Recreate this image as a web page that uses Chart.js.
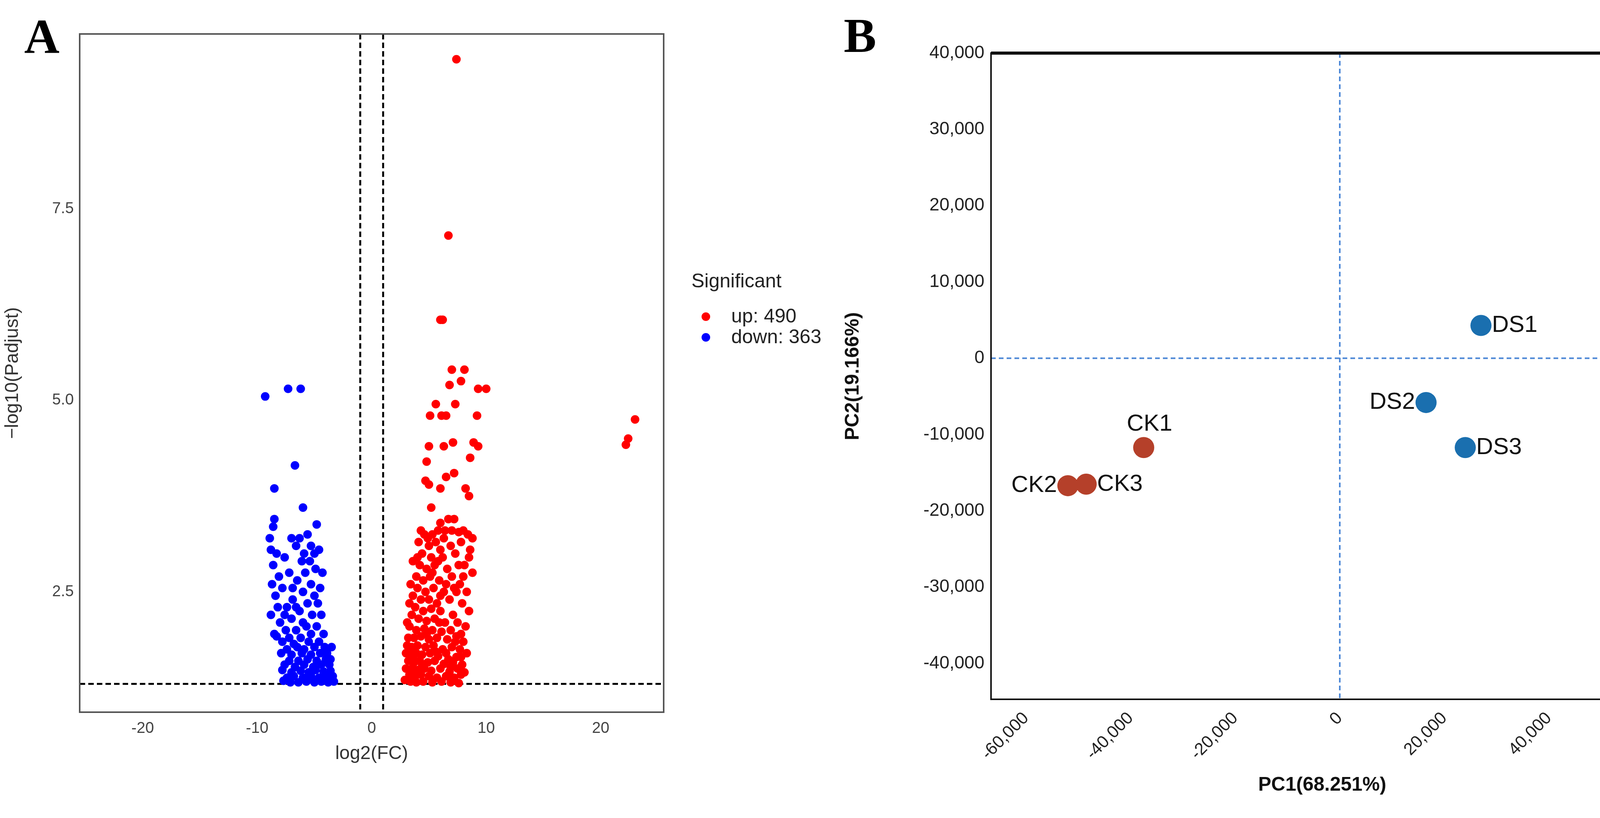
<!DOCTYPE html>
<html>
<head>
<meta charset="utf-8">
<script src="https://cdn.jsdelivr.net/npm/chart.js@4"></script>
<style>
  body { margin: 0; background: #fff; width: 4268px; height: 2095px; position: relative; overflow: hidden; font-family: "Liberation Sans", Arial, sans-serif; }
  canvas { position: absolute; }
  .lbl { position: absolute; font-family: "Liberation Serif", serif; font-weight: bold; font-size: 125px; }
  .leg { position: absolute; font-size: 50px; color: #222; }
  .dot { position: absolute; width: 22px; height: 22px; border-radius: 50%; }
</style>
</head>
<body>
<div class="lbl" style="left:62px;top:22px">A</div>
<div class="lbl" style="left:2160px;top:20px">B</div>
<div class="leg" style="left:1770px;top:690px">Significant</div>
<div class="dot" style="left:1796px;top:800px;background:#ff0000"></div>
<div class="leg" style="left:1872px;top:780px">up: 490</div>
<div class="dot" style="left:1796px;top:853px;background:#0000ff"></div>
<div class="leg" style="left:1872px;top:833px">down: 363</div>
<canvas id="volcano" style="left:0;top:0" width="1710" height="2095"></canvas>
<canvas id="pca" style="left:2150px;top:0" width="2118" height="2095"></canvas>
<script>
// Volcano plot points, [log2FC, -log10(Padjust)]
var upPoints = [
  [7.4,9.45],[6.7,7.15],[6.0,6.05],[6.2,6.05],[7.0,5.4],[8.1,5.4],[6.8,5.2],[7.8,5.25],
  [9.3,5.15],[10.0,5.15],[5.6,4.95],[7.3,4.95],[5.1,4.8],[6.1,4.8],[6.5,4.8],[9.2,4.8],
  [22.2,4.42],[22.4,4.5],[23.0,4.75],[5.0,4.4],[6.3,4.4],[7.1,4.45],[8.9,4.45],[9.3,4.4],
  [4.8,4.2],[7.2,4.05],[8.6,4.25],[6.5,4.0],[5.0,3.9],[4.7,3.95],[8.2,3.85],[6.0,3.85],
  [8.5,3.75],[5.2,3.6],[6.7,3.45],[6.0,3.4],[7.2,3.45],[5.8,3.3],[4.3,3.3],[4.6,3.25],
  [5.3,3.25],[6.4,3.3],[7.0,3.3],[7.6,3.28],[8.0,3.3],[8.4,3.25],[8.8,3.2],[4.1,3.15],
  [5.0,3.1],[5.6,3.15],[6.9,3.1],[7.8,3.15],[8.6,3.05],[4.4,3.0],[5.2,2.95],[6.2,2.95],
  [7.3,3.0],[4.2,2.85],[4.8,2.8],[5.5,2.85],[6.6,2.8],[8.1,2.85],[8.8,2.75],[3.9,2.7],
  [4.5,2.65],[5.1,2.7],[5.9,2.65],[7.0,2.7],[7.7,2.6],[4.0,2.55],[4.7,2.5],[5.4,2.55],
  [6.3,2.5],[7.4,2.5],[8.3,2.5],[3.6,2.45],[4.3,2.4],[5.0,2.4],[5.7,2.35],[6.8,2.4],
  [7.9,2.35],[3.8,2.3],[4.5,2.25],[5.2,2.28],[6.0,2.25],[7.1,2.2],[8.5,2.25],[3.5,2.2],
  [4.1,2.15],[4.8,2.12],[5.5,2.15],[6.4,2.1],[7.5,2.1],[3.3,2.05],[3.9,2.0],[4.6,2.02],
  [5.3,2.0],[6.1,1.98],[6.9,2.0],[7.8,1.95],[8.2,2.05],[3.2,1.9],[3.7,1.9],[4.3,1.92],
  [5.0,1.88],[5.7,1.9],[6.6,1.88],[7.3,1.85],[8.0,1.85],[3.1,1.8],[3.5,1.78],[4.0,1.8],
  [4.7,1.78],[5.4,1.8],[6.2,1.75],[7.0,1.78],[7.7,1.75],[3.0,1.7],[3.4,1.68],[3.9,1.7],
  [4.4,1.68],[5.1,1.7],[5.8,1.66],[6.5,1.7],[7.4,1.65],[8.3,1.7],[3.2,1.6],[3.7,1.58],
  [4.2,1.6],[4.9,1.58],[5.5,1.6],[6.3,1.56],[7.1,1.58],[7.9,1.55],[3.0,1.5],[3.5,1.5],
  [4.0,1.48],[4.6,1.5],[5.2,1.47],[6.0,1.5],[6.8,1.46],[7.5,1.5],[3.3,1.42],[3.8,1.4],
  [4.3,1.42],[5.0,1.4],[5.7,1.38],[6.5,1.4],[7.2,1.38],[7.8,1.42],[2.9,1.35],[3.4,1.33],
  [3.9,1.32],[4.5,1.33],[5.3,1.32],[6.1,1.33],[6.9,1.32],[7.6,1.31],[3.6,2.9],[6.0,3.05],
  [4.9,3.2],[5.8,2.9],[6.5,2.6],[7.6,2.85],[8.0,2.7],[8.5,2.95],[6.3,3.2],[4.0,2.95],
  [3.4,2.6],[3.3,2.35],[5.3,2.75],[6.0,2.45],[7.2,2.55],[3.1,2.1],[5.9,2.1],[7.4,1.92],
  [4.8,1.95],[5.6,1.72],[6.7,1.62],[4.4,1.55],[6.9,1.52],[7.8,1.65],[3.6,1.65],[8.1,1.45]
];
var downPoints = [
  [-9.3,5.05],[-7.3,5.15],[-6.2,5.15],[-6.7,4.15],[-8.5,3.85],[-6.0,3.6],[-8.5,3.45],[-8.6,3.35],
  [-4.8,3.38],[-5.6,3.25],[-6.3,3.2],[-7.0,3.2],[-5.3,3.1],[-6.6,3.1],[-8.8,3.05],[-8.3,3.0],
  [-5.0,3.0],[-7.6,2.95],[-6.1,2.9],[-8.6,2.85],[-4.9,2.8],[-5.8,2.75],[-7.2,2.75],[-8.1,2.7],
  [-6.5,2.65],[-5.3,2.6],[-4.5,2.55],[-7.8,2.55],[-6.0,2.5],[-8.4,2.45],[-5.0,2.45],[-6.9,2.4],
  [-4.7,2.35],[-5.6,2.35],[-7.4,2.3],[-8.2,2.3],[-6.3,2.25],[-4.4,2.2],[-5.2,2.2],[-7.0,2.15],
  [-6.0,2.1],[-8.0,2.1],[-4.8,2.05],[-5.7,2.05],[-6.6,2.0],[-7.5,2.0],[-4.2,1.95],[-5.3,1.95],
  [-6.2,1.9],[-7.2,1.9],[-8.3,1.92],[-4.6,1.85],[-5.5,1.85],[-6.8,1.82],[-7.8,1.85],[-4.1,1.78],
  [-5.0,1.78],[-5.9,1.75],[-6.5,1.78],[-7.4,1.75],[-3.9,1.7],[-4.5,1.7],[-5.3,1.68],[-6.1,1.7],
  [-7.0,1.68],[-7.9,1.7],[-4.0,1.62],[-4.8,1.6],[-5.6,1.62],[-6.4,1.6],[-7.2,1.6],[-3.7,1.55],
  [-4.4,1.55],[-5.1,1.52],[-5.9,1.55],[-6.7,1.52],[-7.6,1.55],[-3.6,1.47],[-4.2,1.46],[-4.9,1.48],
  [-5.5,1.45],[-6.2,1.47],[-7.0,1.45],[-7.8,1.48],[-3.4,1.4],[-4.0,1.4],[-4.6,1.38],[-5.3,1.4],
  [-6.0,1.38],[-6.8,1.4],[-7.4,1.38],[-3.3,1.33],[-3.8,1.32],[-4.4,1.33],[-5.0,1.32],[-5.7,1.33],
  [-6.4,1.32],[-7.1,1.32],[-7.7,1.34],[-8.7,2.6],[-8.8,2.2],[-8.5,1.95],[-4.3,2.75],[-5.9,3.0],
  [-6.9,2.55],[-4.6,3.05],[-8.9,3.2],[-3.6,1.62],[-3.5,1.78],[-6.6,2.3],[-5.4,2.9],[-7.6,2.2]
];

// PCA scores
var pcaLabels = ['CK1', 'CK2', 'CK3', 'DS1', 'DS2', 'DS3'];
var pc1 = [-37500, -52000, -48500, 27000, 16500, 24000];
var pc2 = [-11700, -16700, -16500, 4300, -5800, -11700];
var labelSide = ['top', 'left', 'right', 'right', 'left', 'right'];
var pcaTicks = [-60000, -40000, -20000, 0, 20000, 40000, 60000];

var toXY = function(p) { return {x: p[0], y: p[1]}; };
var fmt = function(v) { return v.toLocaleString('en-US'); };

// Dashed reference lines drawn through the chart's own scales
var refLines = function(id, xs, ys, color, width, dash) {
  return {
    id: id,
    beforeDatasetsDraw: function(chart) {
      var ctx = chart.ctx, a = chart.chartArea;
      var sx = chart.scales.x, sy = chart.scales.y;
      ctx.save();
      ctx.strokeStyle = color;
      ctx.lineWidth = width;
      ctx.setLineDash(dash);
      xs.forEach(function(v) {
        var px = sx.getPixelForValue(v);
        ctx.beginPath(); ctx.moveTo(px, a.top); ctx.lineTo(px, a.bottom); ctx.stroke();
      });
      ys.forEach(function(v) {
        var py = sy.getPixelForValue(v);
        ctx.beginPath(); ctx.moveTo(a.left, py); ctx.lineTo(a.right, py); ctx.stroke();
      });
      ctx.restore();
    }
  };
};

var boxPlugin = function(id, color, width, topWidth) {
  return {
    id: id,
    afterDraw: function(chart) {
      var ctx = chart.ctx, a = chart.chartArea;
      ctx.save();
      ctx.strokeStyle = color;
      ctx.lineWidth = width;
      ctx.strokeRect(a.left, a.top, a.right - a.left, a.bottom - a.top);
      if (topWidth) {
        ctx.lineWidth = topWidth;
        ctx.beginPath(); ctx.moveTo(a.left, a.top); ctx.lineTo(a.right, a.top); ctx.stroke();
      }
      ctx.restore();
    }
  };
};

Chart.defaults.font.family = '"Liberation Sans", Arial, sans-serif';
Chart.defaults.animation = false;

new Chart(document.getElementById('volcano'), {
  type: 'scatter',
  data: {
    datasets: [
      {data: upPoints.map(toXY), backgroundColor: '#ff0000', borderWidth: 0, pointRadius: 11},
      {data: downPoints.map(toXY), backgroundColor: '#0000ff', borderWidth: 0, pointRadius: 11}
    ]
  },
  options: {
    responsive: false,
    layout: {padding: {top: 87, right: 8, bottom: 131}},
    plugins: {legend: {display: false}, tooltip: {enabled: false}},
    scales: {
      x: {
        min: -25.5, max: 25.5,
        afterBuildTicks: function(s) { s.ticks = [-20, -10, 0, 10, 20].map(function(v) { return {value: v}; }); },
        afterFit: function(s) { s.height = 140; },
        grid: {display: false, drawTicks: true, tickLength: 12, tickColor: '#444', lineWidth: 3},
        border: {display: false},
        ticks: {color: '#444', font: {size: 40}, padding: 6},
        title: {display: true, text: 'log2(FC)', color: '#333', font: {size: 48}, padding: {top: 0}}
      },
      y: {
        min: 0.93, max: 9.78,
        afterBuildTicks: function(s) { s.ticks = [2.5, 5.0, 7.5].map(function(v) { return {value: v}; }); },
        afterFit: function(s) { s.width = 204; },
        grid: {display: false, drawTicks: true, tickLength: 12, tickColor: '#444', lineWidth: 3},
        border: {display: false},
        ticks: {color: '#444', font: {size: 40}, callback: function(v) { return v.toFixed(1); }},
        title: {display: true, text: '\u2212log10(Padjust)', color: '#333', font: {size: 48}}
      }
    }
  },
  plugins: [refLines('volRef', [-1, 1], [1.3], '#000', 5, [14, 8]), boxPlugin('volBox', '#555', 4)]
});

new Chart(document.getElementById('pca'), {
  type: 'scatter',
  data: {
    datasets: [{
      data: pc1.map(function(v, i) { return {x: v, y: pc2[i]}; }),
      backgroundColor: pcaLabels.map(function(l) { return l.indexOf('CK') === 0 ? '#b5402a' : '#1a6faf'; }),
      borderWidth: 0, pointRadius: 27
    }]
  },
  options: {
    responsive: false,
    layout: {padding: {top: 136, right: 35, bottom: 50}},
    plugins: {legend: {display: false}, tooltip: {enabled: false}},
    scales: {
      x: {
        min: -66700, max: 60000,
        afterBuildTicks: function(s) { s.ticks = pcaTicks.map(function(v) { return {value: v}; }); },
        afterFit: function(s) { s.height = 254; s.paddingLeft = 0; s.paddingRight = 0; },
        grid: {display: false, drawTicks: true, tickLength: 20, tickColor: '#000', lineWidth: 3},
        border: {display: false},
        ticks: {color: '#222', font: {size: 44}, maxRotation: 45, minRotation: 45, autoSkip: false, callback: function(v) { return fmt(v); }},
        title: {display: true, text: 'PC1(68.251%)', color: '#111', font: {size: 50, weight: 'bold'}, padding: {top: 10}}
      },
      y: {
        min: -44700, max: 40000,
        afterBuildTicks: function(s) {
          s.ticks = [-40000, -30000, -20000, -10000, 0, 10000, 20000, 30000, 40000].map(function(v) { return {value: v}; });
        },
        afterFit: function(s) { s.width = 387; s.paddingTop = 0; s.paddingBottom = 0; },
        grid: {display: false, drawTicks: true, tickLength: 14, tickColor: '#000', lineWidth: 3},
        border: {display: false},
        ticks: {color: '#222', font: {size: 46}, callback: function(v) { return fmt(v); }},
        title: {display: true, text: 'PC2(19.166%)', color: '#111', font: {size: 50, weight: 'bold'}}
      }
    }
  },
  plugins: [
    refLines('pcaRef', [0], [0], '#4a86d6', 4, [12, 8]),
    boxPlugin('pcaBox', '#111', 4, 8),
    {
      id: 'pointLabels',
      afterDatasetsDraw: function(chart) {
        var ctx = chart.ctx, meta = chart.getDatasetMeta(0);
        ctx.save();
        ctx.fillStyle = '#111';
        ctx.font = '60px "Liberation Sans", Arial, sans-serif';
        ctx.textBaseline = 'middle';
        meta.data.forEach(function(el, i) {
          var side = labelSide[i];
          if (side === 'top') { ctx.textAlign = 'center'; ctx.fillText(pcaLabels[i], el.x + 15, el.y - 60); }
          else if (side === 'left') { ctx.textAlign = 'right'; ctx.fillText(pcaLabels[i], el.x - 28, el.y); }
          else { ctx.textAlign = 'left'; ctx.fillText(pcaLabels[i], el.x + 28, el.y); }
        });
        ctx.restore();
      }
    }
  ]
});
</script>
</body>
</html>
